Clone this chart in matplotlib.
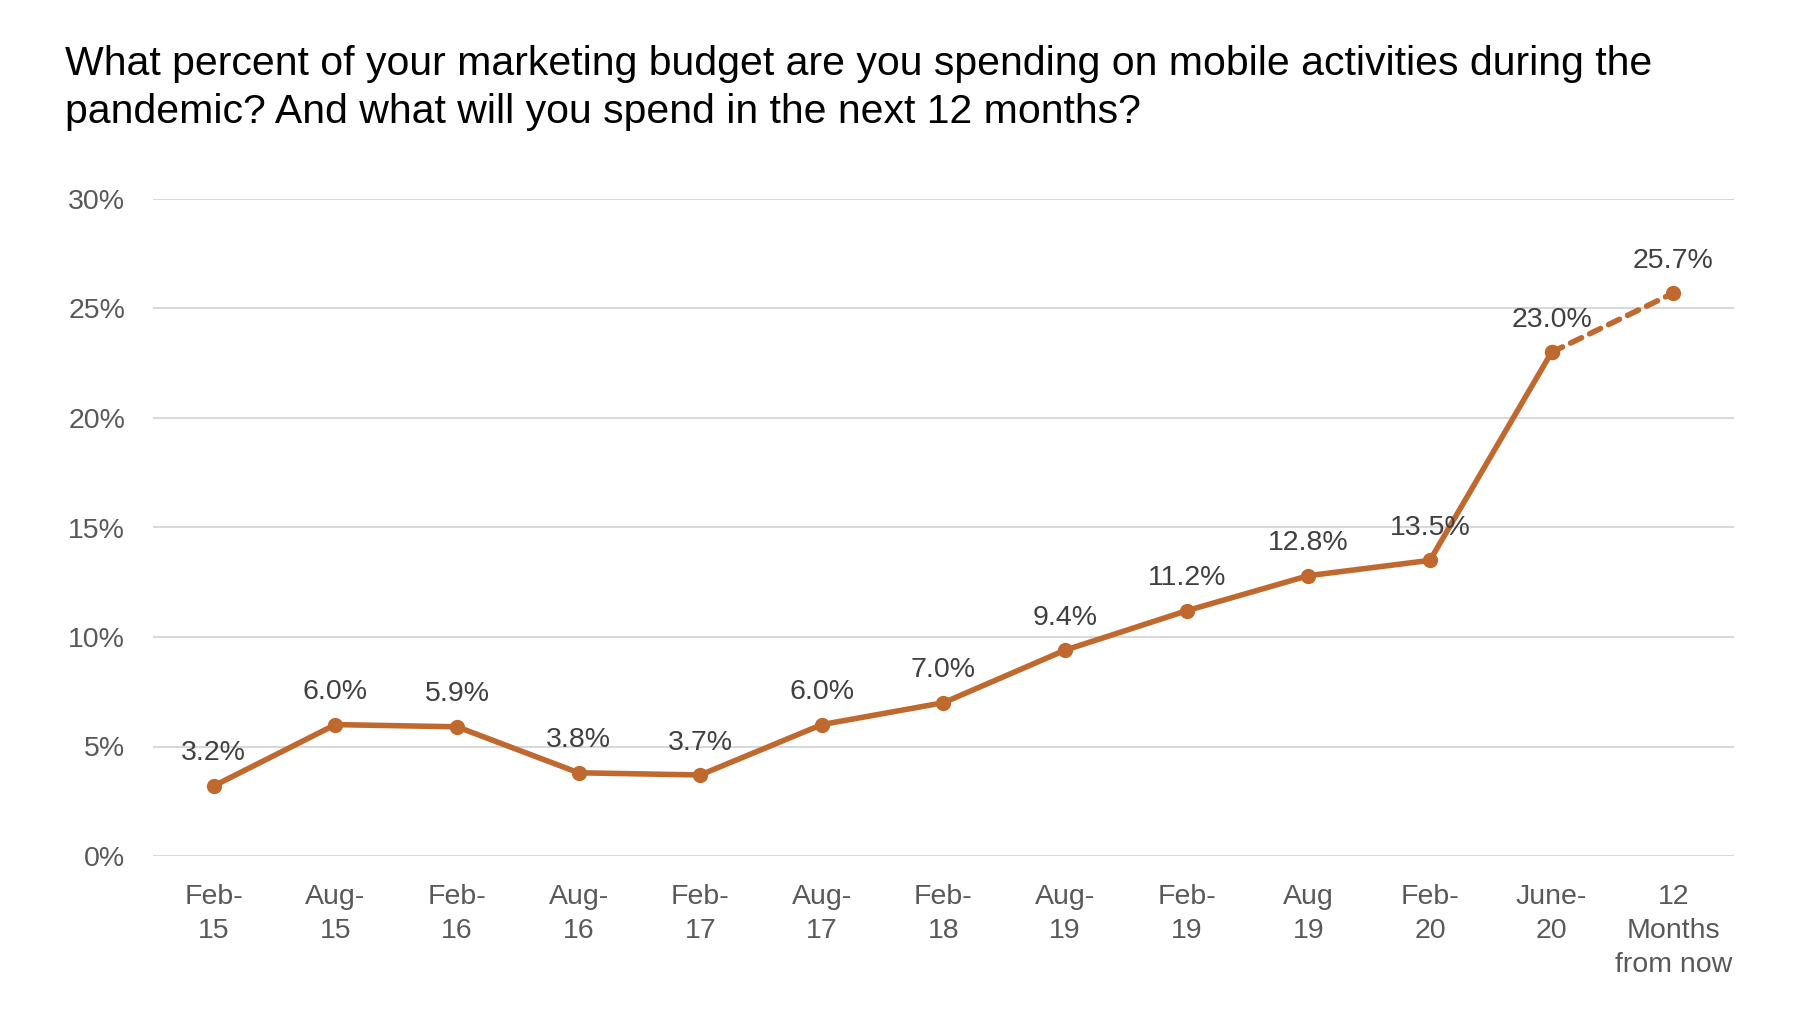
import matplotlib.pyplot as plt
import numpy as np

plt.rcParams['font.family'] = ['Liberation Sans Narrow', 'Liberation Sans', 'DejaVu Sans']

categories = ['Feb-\n15', 'Aug-\n15', 'Feb-\n16', 'Aug-\n16', 'Feb-\n17', 'Aug-\n17',
              'Feb-\n18', 'Aug-\n19', 'Feb-\n19', 'Aug\n19', 'Feb-\n20', 'June-\n20',
              '12\nMonths\nfrom now']
values = [3.2, 6.0, 5.9, 3.8, 3.7, 6.0, 7.0, 9.4, 11.2, 12.8, 13.5, 23.0, 25.7]
y_ticks = [0, 5, 10, 15, 20, 25, 30]

color = '#C0692F'


def main():
    fig = plt.figure(figsize=(18.06, 10.22), dpi=100)
    ax = fig.add_axes([153 / 1806, 1 - 856 / 1022, (1734 - 153) / 1806, (856 - 199) / 1022])

    x = np.arange(len(values))
    ax.plot(x[:-1], values[:-1], color=color, lw=4, marker='o', ms=10, solid_capstyle='round')
    ax.plot(x[-2:], values[-2:], color=color, lw=4, ls=(0, (2.2, 1.6)), marker='o', ms=10,
            dash_capstyle='round')

    for xi, v in zip(x, values):
        ax.annotate(f'{v:.1f}%', (xi, v), xytext=(0, 14), textcoords='offset points',
                    ha='center', va='bottom', fontsize=20.5, color='#404040',
                    family=['Liberation Sans', 'DejaVu Sans'])

    ax.set_xlim(-0.5, len(values) - 0.5)
    ax.set_ylim(0, 30)
    ax.set_yticks(y_ticks)
    ax.set_yticklabels([f'{t}%' for t in y_ticks], family=['Liberation Sans', 'DejaVu Sans'])
    ax.set_xticks(x)
    ax.set_xticklabels(categories, family=['Liberation Sans', 'DejaVu Sans'], linespacing=1.4)
    ax.tick_params(axis='both', length=0, labelsize=20.5, labelcolor='#595959')
    ax.tick_params(axis='x', pad=20)
    ax.tick_params(axis='y', pad=20)
    ax.grid(axis='y', color='#D9D9D9', lw=1.5)
    ax.set_axisbelow(True)
    for s in ax.spines.values():
        s.set_visible(False)

    fig.text(65 / 1806, 1 - 45 / 1022,
             'What percent of your marketing budget are you spending on mobile activities during the\n'
             'pandemic? And what will you spend in the next 12 months?',
             ha='left', va='top', fontsize=29.5, color='black', linespacing=1.32)

    fig.savefig('out.png', dpi=100)


if __name__ == "__main__":
    main()
